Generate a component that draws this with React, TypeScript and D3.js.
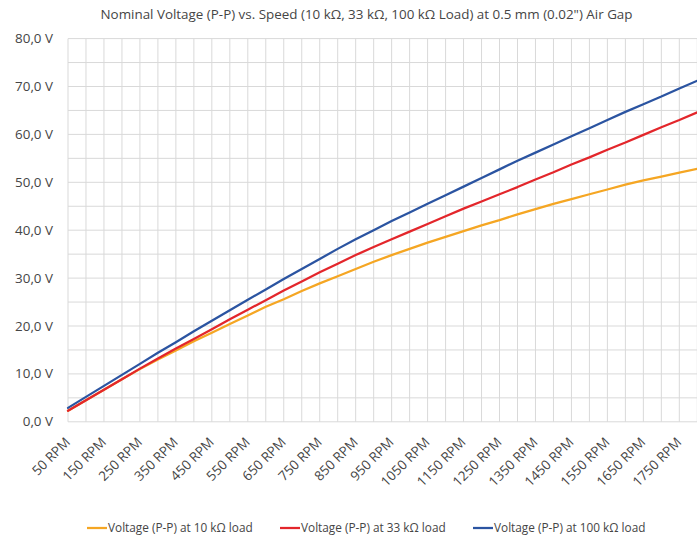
import React from "react";
import * as d3 from "d3";

const rpm: number[] = [
  50, 100, 150, 200, 250, 300, 350, 400, 450, 500, 550, 600, 650, 700, 750, 800, 850, 900,
  950, 1000, 1050, 1100, 1150, 1200, 1250, 1300, 1350, 1400, 1450, 1500, 1550, 1600, 1650,
  1700, 1750, 1800,
];

const load10k: number[] = [
  2.3, 4.5, 6.7, 8.9, 11.0, 13.0, 14.9, 16.8, 18.6, 20.4, 22.2, 24.0, 25.6, 27.3, 28.9, 30.4,
  31.9, 33.4, 34.8, 36.1, 37.4, 38.6, 39.8, 41.0, 42.1, 43.3, 44.4, 45.5, 46.5, 47.5, 48.5,
  49.5, 50.4, 51.2, 52.0, 52.8,
];

const load33k: number[] = [
  2.3, 4.5, 6.7, 8.9, 11.1, 13.2, 15.3, 17.3, 19.3, 21.4, 23.4, 25.4, 27.4, 29.3, 31.2, 33.0,
  34.8, 36.5, 38.1, 39.7, 41.3, 42.9, 44.5, 46.0, 47.5, 49.0, 50.6, 52.1, 53.7, 55.2, 56.8,
  58.3, 59.9, 61.5, 63.0, 64.6,
];

const load100k: number[] = [
  2.9, 5.2, 7.5, 9.8, 12.1, 14.4, 16.6, 18.9, 21.1, 23.3, 25.5, 27.6, 29.8, 31.9, 34.0, 36.1,
  38.1, 40.0, 41.9, 43.7, 45.5, 47.3, 49.1, 50.9, 52.7, 54.5, 56.2, 57.9, 59.6, 61.3, 63.0,
  64.7, 66.3, 67.9, 69.6, 71.2,
];

const seriesNames: string[] = [
  "Voltage (P-P) at 10 kΩ load",
  "Voltage (P-P) at 33 kΩ load",
  "Voltage (P-P) at 100 kΩ load",
];
const seriesColors: string[] = ["#F5A623", "#E3262B", "#2B54A1"];

const xLabelValues: number[] = [
  50, 150, 250, 350, 450, 550, 650, 750, 850, 950, 1050, 1150, 1250, 1350, 1450, 1550, 1650, 1750,
];
const yTickValues: number[] = [0, 10, 20, 30, 40, 50, 60, 70, 80];
const yGridValues: number[] = d3.range(0, 80.1, 5);

const title = "Nominal Voltage (P-P) vs. Speed (10 kΩ, 33 kΩ, 100 kΩ Load) at 0.5 mm (0.02\") Air Gap";

const W = 697;
const H = 539;
const FONT = "'Open Sans', sans-serif";
const TEXT = "#454545";

export default function App() {
  const x = d3.scaleLinear().domain([50, 1800]).range([68, 697.3]);
  const y = d3.scaleLinear().domain([0, 80]).range([421.8, 38.6]);
  const line = d3
    .line<[number, number]>()
    .x((d) => x(d[0]))
    .y((d) => y(d[1]));
  const all = [load10k, load33k, load100k];
  const fmt = (v: number) => v.toFixed(1).replace(".", ",") + " V";

  const legendItems = [
    { lx: 87, tx: 108 },
    { lx: 280, tx: 301 },
    { lx: 473, tx: 494 },
  ];

  return (
    <svg
      width={W}
      height={H}
      style={{ position: "absolute", left: 0, top: 0, background: "#fff" }}
      fontFamily={FONT}
    >
      <rect x={0} y={0} width={W} height={H} fill="#fff" />
      <text x={366.5} y={18.5} textAnchor="middle" fontSize={13.4} fill={TEXT}>
        {title}
      </text>
      {/* gridlines */}
      <g stroke="#D9D9D9" strokeWidth={1}>
        {rpm.map((r) => (
          <line key={"v" + r} x1={x(r)} x2={x(r)} y1={y(80)} y2={y(0)} />
        ))}
        {yGridValues.map((v) => (
          <line key={"h" + v} x1={x(50)} x2={x(1800)} y1={y(v)} y2={y(v)} />
        ))}
      </g>
      {/* y labels */}
      {yTickValues.map((v) => (
        <text
          key={"yl" + v}
          x={53}
          y={y(v) + 4.5}
          textAnchor="end"
          fontSize={13.4}
          fill={TEXT}
        >
          {fmt(v)}
        </text>
      ))}
      {/* x labels */}
      {xLabelValues.map((r) => (
        <text
          key={"xl" + r}
          transform={`translate(${x(r) + 3},${443}) rotate(-45)`}
          textAnchor="end"
          fontSize={13.4}
          fill={TEXT}
        >
          {r + " RPM"}
        </text>
      ))}
      {/* series */}
      {all.map((vals, i) => (
        <path
          key={"s" + i}
          d={line(rpm.map((r, j) => [r, vals[j]] as [number, number])) || ""}
          fill="none"
          stroke={seriesColors[i]}
          strokeWidth={2.25}
          strokeLinejoin="round"
          strokeLinecap="round"
        />
      ))}
      {/* legend */}
      {legendItems.map((it, i) => (
        <g key={"lg" + i}>
          <line
            x1={it.lx}
            x2={it.lx + 20}
            y1={528}
            y2={528}
            stroke={seriesColors[i]}
            strokeWidth={2.25}
          />
          <text x={it.tx} y={532} fontSize={11.8} fill={TEXT}>
            {seriesNames[i]}
          </text>
        </g>
      ))}
    </svg>
  );
}
